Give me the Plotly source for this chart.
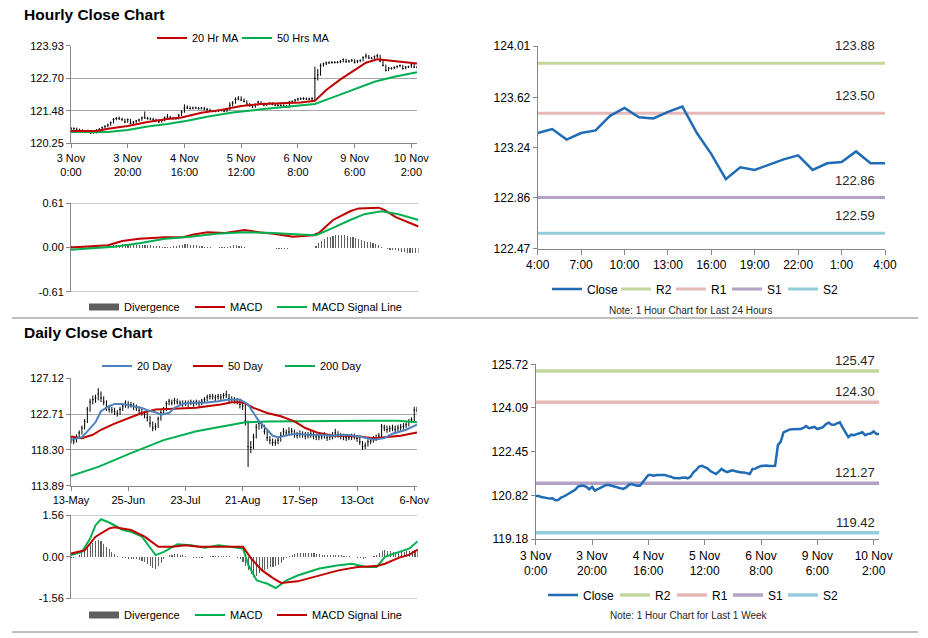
import plotly.graph_objects as go

W, H = 928, 638
FONT = "Liberation Sans, Arial, sans-serif"

# ---------------- DATA ----------------
# Hourly closes, 3 Nov 0:00 .. 10 Nov 4:00 (trading hours)
hourly_close = [
    120.80, 120.80, 120.76, 120.74, 120.70, 120.70, 120.71, 120.64, 120.65, 120.74,
    120.78, 120.84, 120.89, 120.94, 121.03, 121.15, 121.18, 121.18, 121.14, 121.05,
    121.14, 121.00, 121.05, 121.09, 121.13, 121.21, 121.21, 121.18, 121.17, 121.14,
    121.11, 121.06, 121.11, 121.21, 121.24, 121.21, 121.18, 121.18, 121.31, 121.43,
    121.58, 121.58, 121.56, 121.58, 121.58, 121.56, 121.58, 121.54, 121.52, 121.47,
    121.46, 121.46, 121.48, 121.49, 121.46, 121.52, 121.68, 121.77, 121.90, 121.93,
    121.88, 121.83, 121.73, 121.67, 121.62, 121.71, 121.81, 121.74, 121.69, 121.73,
    121.76, 121.72, 121.69, 121.68, 121.68, 121.66, 121.62, 121.81, 121.82, 121.88,
    121.92, 121.93, 121.94, 121.92, 121.92, 121.93, 122.70, 122.83, 123.18, 123.24,
    123.28, 123.29, 123.30, 123.30, 123.30, 123.34, 123.41, 123.33, 123.35, 123.38,
    123.30, 123.35, 123.37, 123.48, 123.54, 123.47, 123.46, 123.51, 123.55, 123.35,
    123.19, 123.00, 123.09, 123.07, 123.11, 123.15, 123.18, 123.07, 123.12, 123.13,
    123.21, 123.12, 123.12]
hourly_high = [
    120.86, 120.85, 120.84, 120.80, 120.78, 120.75, 120.76, 120.74, 120.69, 120.78,
    120.82, 120.88, 120.93, 120.99, 121.07, 121.20, 121.24, 121.26, 121.22, 121.18,
    121.19, 121.17, 121.09, 121.13, 121.18, 121.26, 121.45, 121.25, 121.22, 121.21,
    121.18, 121.15, 121.15, 121.26, 121.36, 121.28, 121.25, 121.23, 121.35, 121.50,
    121.72, 121.68, 121.64, 121.63, 121.63, 121.62, 121.62, 121.62, 121.58, 121.56,
    121.51, 121.50, 121.52, 121.53, 121.53, 121.58, 121.80, 121.84, 121.98, 122.03,
    122.02, 121.94, 121.87, 121.77, 121.71, 121.75, 121.85, 121.84, 121.78, 121.77,
    121.80, 121.80, 121.76, 121.73, 121.72, 121.72, 121.70, 121.85, 121.87, 121.92,
    121.97, 121.98, 121.99, 121.98, 121.97, 121.99, 123.14, 123.05, 123.26, 123.29,
    123.33, 123.34, 123.35, 123.35, 123.35, 123.39, 123.45, 123.44, 123.40, 123.43,
    123.42, 123.39, 123.42, 123.53, 123.64, 123.58, 123.51, 123.56, 123.62, 123.59,
    123.39, 123.22, 123.13, 123.12, 123.15, 123.19, 123.22, 123.21, 123.16, 123.17,
    123.25, 123.24, 123.16]
hourly_low = [
    120.75, 120.76, 120.72, 120.70, 120.66, 120.66, 120.66, 120.60, 120.61, 120.62,
    120.71, 120.75, 120.81, 120.86, 120.91, 121.00, 121.12, 121.13, 121.10, 121.01,
    121.02, 120.97, 120.97, 121.02, 121.06, 121.10, 121.17, 121.14, 121.13, 121.10,
    121.07, 121.02, 121.03, 121.08, 121.18, 121.17, 121.14, 121.14, 121.15, 121.28,
    121.40, 121.54, 121.52, 121.53, 121.54, 121.52, 121.53, 121.50, 121.48, 121.43,
    121.42, 121.42, 121.43, 121.45, 121.42, 121.43, 121.49, 121.64, 121.74, 121.87,
    121.84, 121.79, 121.69, 121.63, 121.58, 121.59, 121.68, 121.70, 121.65, 121.66,
    121.70, 121.68, 121.65, 121.64, 121.64, 121.62, 121.58, 121.59, 121.77, 121.79,
    121.85, 121.88, 121.89, 121.88, 121.87, 121.88, 121.88, 122.62, 122.80, 123.14,
    123.20, 123.24, 123.25, 123.26, 123.26, 123.27, 123.30, 123.29, 123.29, 123.31,
    123.26, 123.27, 123.31, 123.34, 123.45, 123.43, 123.42, 123.43, 123.47, 123.31,
    123.15, 122.96, 122.97, 123.03, 123.04, 123.08, 123.12, 123.03, 123.04, 123.09,
    123.10, 123.09, 123.08]
hourly_tick_labels = ["3 Nov<br>0:00", "3 Nov<br>20:00", "4 Nov<br>16:00", "5 Nov<br>12:00",
                      "6 Nov<br>8:00", "9 Nov<br>6:00", "10 Nov<br>2:00"]
hourly_price_ticks = [120.25, 121.48, 122.70, 123.93]

ma20_hr_idx = [0, 9, 13, 20, 27, 34, 39, 46, 53, 60, 67, 74, 81, 86, 90, 95, 100, 104, 108, 111, 116, 122]
ma20_hr = [120.71, 120.71, 120.80, 120.90, 121.05, 121.17, 121.22, 121.40, 121.51, 121.66, 121.73,
           121.77, 121.79, 121.85, 122.26, 122.66, 123.01, 123.29, 123.42, 123.39, 123.34, 123.26]
ma50_hr_idx = [0, 13, 20, 27, 34, 41, 48, 57, 67, 76, 86, 93, 100, 107, 114, 122]
ma50_hr = [120.68, 120.68, 120.75, 120.88, 120.98, 121.10, 121.25, 121.41, 121.53, 121.63,
           121.73, 122.01, 122.28, 122.57, 122.76, 122.93]

macd_hr_idx = [0, 5, 13, 18, 24, 33, 39, 43, 48, 54, 61, 66, 71, 78, 85, 87, 92, 98, 101, 108, 110, 114, 119, 122]
macd_hr = [0.00, 0.01, 0.03, 0.09, 0.12, 0.14, 0.14, 0.18, 0.21, 0.20, 0.24, 0.21, 0.19, 0.15,
           0.17, 0.20, 0.38, 0.50, 0.54, 0.55, 0.52, 0.42, 0.34, 0.29]
signal_hr_idx = [0, 10, 15, 24, 33, 42, 51, 61, 71, 80, 86, 92, 98, 103, 109, 115, 122]
signal_hr = [-0.03, -0.01, 0.01, 0.06, 0.12, 0.15, 0.19, 0.21, 0.20, 0.18, 0.17, 0.27, 0.38,
             0.46, 0.50, 0.46, 0.38]
divergence_hr = [
    0.02, 0.02, 0.02, 0.02, 0.02, 0.01, 0.01, 0.01, 0.01, 0.01,
    0.01, 0.01, 0.01, 0.02, 0.02, 0.03, 0.04, 0.04, 0.05, 0.05,
    0.05, 0.05, 0.04, 0.04, 0.04, 0.04, 0.04, 0.03, 0.03, 0.02,
    0.02, 0.02, 0.01, 0.01, 0.01, 0.01, 0.02, 0.02, 0.03, 0.04,
    0.05, 0.05, 0.04, 0.04, 0.03, 0.02, 0.02, 0.01, 0.01, 0.01,
    0.00, 0.00, 0.01, 0.01, 0.01, 0.01, 0.02, 0.03, 0.03, 0.02,
    0.02, 0.01, 0.00, -0.01, -0.01, 0.00, 0.00, -0.01, -0.01, -0.01,
    -0.01, -0.01, -0.02, -0.02, -0.02, -0.02, -0.02, -0.01, -0.01, -0.01,
    -0.01, -0.01, -0.01, -0.01, -0.01, -0.01, 0.02, 0.06, 0.09, 0.12,
    0.14, 0.15, 0.16, 0.17, 0.17, 0.17, 0.17, 0.16, 0.15, 0.14,
    0.13, 0.12, 0.10, 0.09, 0.08, 0.07, 0.06, 0.05, 0.03, 0.01,
    -0.01, -0.02, -0.03, -0.04, -0.04, -0.05, -0.06, -0.06, -0.07, -0.07,
    -0.08, -0.08, -0.08]
macd_hr_ticks = [-0.61, 0.00, 0.61]

last24_tick_labels = ["4:00", "7:00", "10:00", "13:00", "16:00", "19:00", "22:00", "1:00", "4:00"]
last24_price_ticks = [122.47, 122.86, 123.24, 123.62, 124.01]
week_price_ticks = [119.18, 120.82, 122.45, 124.09, 125.72]
level_names = ["R2", "R1", "S1", "S2"]
levels_24h = [123.88, 123.50, 122.86, 122.59]
levels_1w = [125.47, 124.30, 121.27, 119.42]

# Daily, 13 May .. 6 Nov
daily_close = [
    119.6, 119.4, 119.9, 120.4, 121.0, 121.8, 123.3, 124.2, 124.5, 124.7,
    125.2, 124.7, 124.2, 123.5, 123.3, 123.2, 123.0, 122.8, 123.3, 123.7,
    124.1, 123.8, 123.9, 123.6, 123.5, 123.2, 122.9, 122.7, 122.3, 121.6,
    121.0, 121.2, 122.1, 122.9, 123.3, 124.0, 124.3, 124.1, 124.4, 124.2,
    124.1, 124.0, 124.1, 124.0, 124.2, 124.0, 124.2, 124.0, 124.3, 124.5,
    124.8, 124.9, 124.9, 124.7, 124.9, 124.8, 125.0, 125.1, 124.6, 124.5,
    124.4, 124.3, 123.9, 123.7, 121.9, 118.7, 118.6, 119.9, 121.1, 121.6,
    121.3, 120.6, 119.8, 119.5, 119.2, 119.2, 119.5, 120.1, 120.6, 120.4,
    120.5, 120.6, 120.2, 120.1, 120.3, 120.2, 120.0, 120.1, 120.3, 120.0,
    119.9, 119.9, 120.0, 120.1, 119.8, 119.9, 120.0, 120.4, 120.2, 120.0,
    119.9, 119.8, 119.8, 119.9, 119.9, 119.7, 119.3, 118.7, 118.8, 119.3,
    119.4, 119.6, 119.8, 120.0, 121.2, 121.0, 120.8, 120.9, 121.0, 120.8,
    121.0, 121.1, 121.2, 121.4, 121.8, 122.0, 123.2, 123.2]
daily_high = [
    120.0, 119.9, 120.2, 120.7, 121.3, 122.1, 123.6, 124.6, 125.0, 125.1,
    125.9, 125.5, 124.9, 124.4, 123.8, 123.6, 123.5, 123.2, 123.6, 124.0,
    124.4, 124.3, 124.2, 124.1, 123.9, 123.7, 123.4, 123.1, 122.9, 122.5,
    121.8, 121.6, 122.4, 123.2, 123.6, 124.3, 124.6, 124.5, 124.7, 124.6,
    124.4, 124.4, 124.4, 124.4, 124.5, 124.4, 124.5, 124.4, 124.6, 124.8,
    125.1, 125.2, 125.2, 125.1, 125.2, 125.2, 125.3, 125.6, 125.2, 124.9,
    124.8, 124.7, 124.5, 124.1, 123.9, 121.9, 119.4, 120.3, 121.5, 121.9,
    121.8, 121.4, 120.7, 120.0, 119.7, 119.6, 119.9, 120.5, 121.0, 120.8,
    121.1, 121.0, 120.8, 120.5, 120.7, 120.6, 120.5, 120.5, 120.7, 120.5,
    120.3, 120.3, 120.4, 120.5, 120.3, 120.3, 120.5, 120.9, 120.6, 120.4,
    120.3, 120.2, 120.2, 120.3, 120.3, 120.1, 119.9, 119.4, 119.2, 119.6,
    119.8, 120.0, 120.2, 120.4, 121.5, 121.4, 121.3, 121.3, 121.4, 121.3,
    121.4, 121.5, 121.6, 121.7, 122.1, 122.3, 123.6, 123.6]
daily_low = [
    119.1, 119.0, 119.2, 119.7, 120.2, 120.8, 121.6, 123.0, 123.9, 124.1,
    124.4, 124.2, 123.8, 123.1, 122.9, 122.8, 122.6, 122.4, 122.6, 123.1,
    123.5, 123.4, 123.5, 123.2, 123.1, 122.8, 122.5, 122.2, 121.8, 121.1,
    120.6, 120.7, 121.0, 121.9, 122.7, 123.1, 123.8, 123.8, 123.9, 123.9,
    123.7, 123.6, 123.7, 123.6, 123.8, 123.6, 123.8, 123.6, 123.8, 124.1,
    124.3, 124.5, 124.5, 124.3, 124.5, 124.4, 124.6, 124.7, 124.2, 124.1,
    124.0, 123.9, 123.4, 123.2, 121.3, 116.2, 117.9, 118.4, 119.7, 120.8,
    120.9, 120.2, 119.4, 119.0, 118.8, 118.8, 119.0, 119.3, 119.9, 120.0,
    120.1, 120.1, 119.8, 119.7, 119.8, 119.8, 119.6, 119.7, 119.8, 119.6,
    119.5, 119.5, 119.6, 119.7, 119.4, 119.5, 119.6, 119.8, 119.8, 119.6,
    119.5, 119.4, 119.5, 119.5, 119.6, 119.3, 118.9, 118.3, 118.4, 118.7,
    119.0, 119.2, 119.4, 119.6, 119.9, 120.6, 120.4, 120.5, 120.6, 120.4,
    120.6, 120.7, 120.8, 121.0, 121.2, 121.6, 121.7, 122.9]
daily_tick_labels = ["13-May", "25-Jun", "23-Jul", "21-Aug", "17-Sep", "13-Oct", "6-Nov"]
daily_price_ticks = [113.89, 118.30, 122.71, 127.12]

ma20_d_idx = [0, 4, 6, 9, 11, 14, 16, 19, 21, 24, 26, 28, 31, 33, 36, 38, 41, 44, 49, 54, 58, 62,
              65, 67, 69, 72, 74, 76, 78, 82, 87, 91, 96, 101, 106, 111, 115, 118, 123, 127]
ma20_d = [119.54, 119.87, 120.58, 121.70, 123.06, 123.68, 123.97, 123.97, 123.81, 123.60, 123.48,
          123.19, 122.94, 122.65, 122.85, 123.48, 123.97, 124.10, 124.10, 124.30, 124.51, 124.51,
          123.89, 122.85, 121.82, 120.78, 120.04, 119.87, 120.04, 120.29, 120.16, 120.16, 120.04,
          120.16, 119.96, 119.54, 119.75, 120.29, 120.78, 121.40]
ma50_d_idx = [0, 4, 8, 11, 16, 21, 26, 31, 36, 41, 46, 50, 55, 59, 62, 64, 67, 72, 77, 82, 86, 91,
              96, 101, 106, 111, 116, 121, 127]
ma50_d = [119.96, 119.75, 120.16, 120.78, 121.53, 122.23, 122.85, 123.27, 123.35, 123.48, 123.48,
          123.68, 123.89, 124.18, 124.18, 124.01, 123.48, 122.85, 122.44, 121.82, 120.99, 120.37,
          120.04, 120.04, 119.96, 119.75, 119.87, 120.04, 120.45]
ma200_d_idx = [0, 10, 22, 34, 46, 58, 64, 72, 84, 96, 108, 120, 124, 127]
ma200_d = [115.10, 116.20, 117.90, 119.50, 120.60, 121.30, 121.70, 121.80, 121.85, 121.90, 121.90,
           121.90, 121.75, 121.70]

macd_d_idx = [0, 4, 7, 9, 11, 14, 19, 22, 26, 28, 31, 34, 39, 44, 49, 54, 59, 63, 65, 68, 70, 72,
              75, 79, 83, 91, 98, 103, 108, 112, 115, 120, 124, 127]
macd_d = [0.06, 0.18, 0.68, 1.18, 1.40, 1.28, 1.00, 0.93, 0.75, 0.49, 0.06, 0.18, 0.47, 0.43, 0.34,
          0.43, 0.37, 0.31, -0.32, -0.88, -0.95, -1.01, -1.17, -0.88, -0.70, -0.44, -0.32, -0.26,
          -0.38, -0.38, 0.00, 0.18, 0.31, 0.58]
signal_d_idx = [0, 5, 9, 14, 16, 22, 27, 32, 37, 42, 47, 53, 59, 63, 66, 70, 74, 77, 83, 91, 98,
                105, 112, 115, 120, 124, 127]
signal_d = [0.12, 0.24, 0.75, 1.06, 1.10, 1.00, 0.75, 0.37, 0.37, 0.43, 0.37, 0.37, 0.39, 0.37,
            -0.07, -0.51, -0.80, -0.98, -0.92, -0.70, -0.51, -0.38, -0.35, -0.26, -0.04, 0.08, 0.27]
divergence_d = [
    -0.05, -0.04, 0.00, 0.08, 0.15, 0.25, 0.35, 0.45, 0.52, 0.58,
    0.62, 0.58, 0.48, 0.38, 0.28, 0.18, 0.10, 0.04, 0.00, -0.04,
    -0.06, -0.07, -0.08, -0.08, -0.10, -0.12, -0.15, -0.20, -0.28, -0.36,
    -0.42, -0.45, -0.35, -0.22, -0.10, 0.00, 0.05, 0.08, 0.10, 0.09,
    0.07, 0.05, 0.03, 0.00, -0.02, -0.03, -0.05, -0.05, -0.04, -0.02,
    0.00, 0.02, 0.03, 0.03, 0.04, 0.04, 0.03, 0.02, 0.01, 0.00,
    -0.02, -0.05, -0.10, -0.20, -0.35, -0.50, -0.65, -0.75, -0.72, -0.62,
    -0.55, -0.50, -0.45, -0.40, -0.38, -0.35, -0.30, -0.22, -0.12, -0.05,
    0.02, 0.06, 0.10, 0.13, 0.15, 0.15, 0.15, 0.14, 0.14, 0.13,
    0.12, 0.10, 0.08, 0.07, 0.06, 0.07, 0.08, 0.07, 0.06, 0.05,
    0.04, 0.03, 0.02, 0.00, -0.02, -0.04, -0.06, -0.07, -0.04, -0.02,
    0.00, 0.03, 0.08, 0.15, 0.22, 0.24, 0.22, 0.20, 0.18, 0.18,
    0.16, 0.16, 0.18, 0.20, 0.20, 0.22, 0.25, 0.28]
macd_d_ticks = [-1.56, 0.00, 1.56]

assert len(hourly_high) == len(hourly_low) == len(hourly_close) == len(divergence_hr)
assert len(daily_high) == len(daily_low) == len(daily_close) == len(divergence_d)

# ---------------- STYLE ----------------
RED = "#C00000"
GREEN = "#00B050"
BLUE20 = "#4F81BD"
CLOSE_BLUE = "#1F6BB5"
LEVEL_COLORS = ["#C3D69B", "#E6B9B8", "#B3A2C7", "#93CDDD"]
DIV_COLOR = "#5f5f5f"
AXIS = "#868686"
GRID = "#a6a6a6"
TXT = "#000000"


def xdom(a, b):
    return [a / W, b / W]


def ydom(top, bottom):
    return [1 - bottom / H, 1 - top / H]


def rng(lo, hi):
    e = (hi - lo) * 2e-4
    return [lo - e, hi + e]


def fmt(vals):
    return [f"{v:.2f}" for v in vals]


n_h = len(hourly_close)
n_d = len(daily_close)
xh = list(range(n_h))
xd = list(range(n_d))
last24 = hourly_close[-25:]
x24 = list(range(len(last24)))

fig = go.Figure()

# ---- Panel A: hourly candles + MAs ----
fig.add_trace(go.Ohlc(x=xh, open=hourly_close, high=hourly_high, low=hourly_low, close=hourly_close,
                      increasing=dict(line=dict(color="black", width=1)),
                      decreasing=dict(line=dict(color="black", width=1)),
                      tickwidth=0.3, showlegend=False, hoverinfo="skip", xaxis="x", yaxis="y"))
fig.add_trace(go.Scatter(x=ma50_hr_idx, y=ma50_hr, mode="lines", name="50 Hrs MA",
                         line=dict(color=GREEN, width=2), legend="legend", legendrank=2,
                         xaxis="x", yaxis="y"))
fig.add_trace(go.Scatter(x=ma20_hr_idx, y=ma20_hr, mode="lines", name="20 Hr MA",
                         line=dict(color=RED, width=2), legend="legend", legendrank=1, legendwidth=40,
                         xaxis="x", yaxis="y"))

# ---- Panel B: hourly MACD ----
fig.add_trace(go.Bar(x=xh, y=divergence_hr, marker=dict(color=DIV_COLOR, line=dict(width=0)),
                     width=0.4, showlegend=False, hoverinfo="skip", xaxis="x2", yaxis="y2"))
fig.add_trace(go.Scatter(x=[None], y=[None], mode="lines", name="Divergence",
                         line=dict(color=DIV_COLOR, width=7), legend="legend2", legendrank=1,
                         legendwidth=61, xaxis="x2", yaxis="y2"))
fig.add_trace(go.Scatter(x=macd_hr_idx, y=macd_hr, mode="lines", name="MACD",
                         line=dict(color=RED, width=2), legend="legend2", legendrank=2,
                         legendwidth=37, xaxis="x2", yaxis="y2"))
fig.add_trace(go.Scatter(x=signal_hr_idx, y=signal_hr, mode="lines", name="MACD Signal Line",
                         line=dict(color=GREEN, width=2), legend="legend2", legendrank=3,
                         xaxis="x2", yaxis="y2"))

# ---- Panel C: last 24 hours ----
lw24 = [10, 11, 11, None]
for k, (nm, lv, col) in enumerate(zip(level_names, levels_24h, LEVEL_COLORS)):
    fig.add_trace(go.Scatter(x=[x24[0], x24[-1]], y=[lv, lv], mode="lines", name=nm,
                             line=dict(color=col, width=3), legend="legend3", legendrank=k + 2,
                             legendwidth=lw24[k], xaxis="x3", yaxis="y3"))
fig.add_trace(go.Scatter(x=x24, y=last24, mode="lines", name="Close",
                         line=dict(color=CLOSE_BLUE, width=2.5), legend="legend3", legendrank=1,
                         legendwidth=24, xaxis="x3", yaxis="y3"))

# ---- Panel D: daily candles + MAs ----
fig.add_trace(go.Ohlc(x=xd, open=daily_close, high=daily_high, low=daily_low, close=daily_close,
                      increasing=dict(line=dict(color="black", width=1)),
                      decreasing=dict(line=dict(color="black", width=1)),
                      tickwidth=0.3, showlegend=False, hoverinfo="skip", xaxis="x4", yaxis="y4"))
fig.add_trace(go.Scatter(x=ma200_d_idx, y=ma200_d, mode="lines", name="200 Day",
                         line=dict(color=GREEN, width=2), legend="legend4", legendrank=3,
                         xaxis="x4", yaxis="y4"))
fig.add_trace(go.Scatter(x=ma50_d_idx, y=ma50_d, mode="lines", name="50 Day",
                         line=dict(color=RED, width=2), legend="legend4", legendrank=2, legendwidth=47,
                         xaxis="x4", yaxis="y4"))
fig.add_trace(go.Scatter(x=ma20_d_idx, y=ma20_d, mode="lines", name="20 Day",
                         line=dict(color=BLUE20, width=2), legend="legend4", legendrank=1, legendwidth=46,
                         xaxis="x4", yaxis="y4"))

# ---- Panel E: daily MACD ----
fig.add_trace(go.Bar(x=xd, y=divergence_d, marker=dict(color=DIV_COLOR, line=dict(width=0)),
                     width=0.4, showlegend=False, hoverinfo="skip", xaxis="x5", yaxis="y5"))
fig.add_trace(go.Scatter(x=[None], y=[None], mode="lines", name="Divergence",
                         line=dict(color=DIV_COLOR, width=7), legend="legend5", legendrank=1,
                         legendwidth=61, xaxis="x5", yaxis="y5"))
fig.add_trace(go.Scatter(x=macd_d_idx, y=macd_d, mode="lines", name="MACD",
                         line=dict(color=GREEN, width=2), legend="legend5", legendrank=2,
                         legendwidth=37, xaxis="x5", yaxis="y5"))
fig.add_trace(go.Scatter(x=signal_d_idx, y=signal_d, mode="lines", name="MACD Signal Line",
                         line=dict(color=RED, width=2), legend="legend5", legendrank=3,
                         xaxis="x5", yaxis="y5"))

# ---- Panel F: last week ----
lw1w = [12, 11, 10, None]
for k, (nm, lv, col) in enumerate(zip(level_names, levels_1w, LEVEL_COLORS)):
    fig.add_trace(go.Scatter(x=[xh[0], xh[-1]], y=[lv, lv], mode="lines", name=nm,
                             line=dict(color=col, width=3.5), legend="legend6", legendrank=k + 2,
                             legendwidth=lw1w[k], xaxis="x6", yaxis="y6"))
fig.add_trace(go.Scatter(x=xh, y=hourly_close, mode="lines", name="Close",
                         line=dict(color=CLOSE_BLUE, width=2.5), legend="legend6", legendrank=1,
                         legendwidth=27, xaxis="x6", yaxis="y6"))

# ---------------- LAYOUT ----------------
def yaxis(domain, anchor, lo, hi, ticks, size=11, grid=False):
    return dict(domain=domain, anchor=anchor, range=rng(lo, hi), tickvals=ticks, ticktext=fmt(ticks),
                showgrid=grid, gridcolor=GRID, gridwidth=1, showline=True, linecolor=AXIS, linewidth=1,
                ticks="outside", ticklen=4, tickcolor=AXIS, zeroline=False, fixedrange=True,
                automargin=False, tickfont=dict(family=FONT, size=size, color=TXT))


def xaxis(domain, anchor, hi, step, labels, size=11, ticklen=4):
    return dict(domain=domain, anchor=anchor, range=[0, hi], tickvals=list(range(0, hi + 1, step)),
                ticktext=labels, showgrid=False, showline=True, linecolor=AXIS, linewidth=1,
                ticks="outside", ticklen=ticklen, tickcolor=AXIS, zeroline=False, fixedrange=True,
                automargin=False, tickangle=0, tickfont=dict(family=FONT, size=size, color=TXT),
                rangeslider=dict(visible=False))


def hidden_x(domain, anchor, hi):
    return dict(domain=domain, anchor=anchor, range=[0, hi], visible=False, fixedrange=True,
                rangeslider=dict(visible=False))


def legend_at(x_px, y_px, size):
    return dict(orientation="h", x=x_px / W, y=1 - y_px / H, xanchor="left", yanchor="middle",
                font=dict(family=FONT, size=size, color=TXT), bgcolor="rgba(0,0,0,0)",
                borderwidth=0, itemclick=False, itemdoubleclick=False)


A_x, A_y = xdom(71, 417), ydom(45.7, 143.3)
B_x, B_y = xdom(71, 418.5), ydom(203.3, 291.7)
C_x, C_y = xdom(537.7, 885), ydom(46, 249)
D_x, D_y = xdom(71, 417), ydom(378.3, 485.7)
E_x, E_y = xdom(71, 417.7), ydom(515, 598.5)
F_x, F_y = xdom(535.7, 879.3), ydom(364.3, 539.3)

shapes = []
for yv in macd_hr_ticks:
    if yv != 0:
        shapes.append(dict(type="line", xref="x2 domain", yref="y2", x0=0, x1=1, y0=yv, y1=yv,
                           line=dict(color=GRID, width=1), layer="below"))
for yv in macd_d_ticks:
    if yv != 0:
        shapes.append(dict(type="line", xref="x5 domain", yref="y5", x0=0, x1=1, y0=yv, y1=yv,
                           line=dict(color=GRID, width=1), layer="below"))
for ypx in (318, 632):
    shapes.append(dict(type="line", xref="paper", yref="paper", x0=12 / W, x1=918 / W,
                       y0=1 - ypx / H, y1=1 - ypx / H, line=dict(color="#7f7f7f", width=1)))

annotations = [
    dict(text="Hourly Close Chart", xref="paper", yref="paper", x=22 / W, y=1 - 14 / H,
         xanchor="left", yanchor="middle", showarrow=False,
         font=dict(family=FONT, size=15.5, color=TXT, weight="bold")),
    dict(text="Daily Close Chart", xref="paper", yref="paper", x=22 / W, y=1 - 332.5 / H,
         xanchor="left", yanchor="middle", showarrow=False,
         font=dict(family=FONT, size=15.5, color=TXT, weight="bold")),
    dict(text="Note: 1 Hour Chart for Last 24 Hours", xref="paper", yref="paper", x=690 / W,
         y=1 - 310 / H, xanchor="center", yanchor="middle", showarrow=False,
         font=dict(family=FONT, size=10, color="#262626")),
    dict(text="Note: 1 Hour Chart for Last 1 Week", xref="paper", yref="paper", x=689 / W,
         y=1 - 615 / H, xanchor="center", yanchor="middle", showarrow=False,
         font=dict(family=FONT, size=10, color="#262626")),
]
for lv in levels_24h:
    annotations.append(dict(text=f"{lv:.2f}", xref="x3", yref="y3", x=x24[-1], y=lv,
                            xanchor="right", yanchor="bottom", xshift=-8, yshift=8, showarrow=False,
                            font=dict(family=FONT, size=13, color="#262626")))
for lv in levels_1w:
    annotations.append(dict(text=f"{lv:.2f}", xref="x6", yref="y6", x=xh[-1], y=lv,
                            xanchor="right", yanchor="bottom", xshift=-2, yshift=1, showarrow=False,
                            font=dict(family=FONT, size=13, color="#262626")))

fig.update_layout(
    width=W, height=H, autosize=False, margin=dict(l=0, r=0, t=0, b=0, pad=0, autoexpand=False),
    paper_bgcolor="white", plot_bgcolor="white", hovermode=False, showlegend=True,
    bargap=0,
    xaxis=xaxis(A_x, "y", n_h - 1, 20, hourly_tick_labels),
    yaxis=yaxis(A_y, "x", hourly_price_ticks[0], hourly_price_ticks[-1], hourly_price_ticks, grid=True),
    xaxis2=hidden_x(B_x, "y2", n_h - 1),
    yaxis2=yaxis(B_y, "x2", macd_hr_ticks[0], macd_hr_ticks[-1], macd_hr_ticks),
    xaxis3=xaxis(C_x, "y3", len(last24) - 1, 3, last24_tick_labels, size=12, ticklen=5),
    yaxis3=yaxis(C_y, "x3", last24_price_ticks[0], last24_price_ticks[-1], last24_price_ticks, size=12),
    xaxis4=xaxis(D_x, "y4", n_d - 1, 21, daily_tick_labels),
    yaxis4=yaxis(D_y, "x4", daily_price_ticks[0], daily_price_ticks[-1], daily_price_ticks, grid=True),
    xaxis5=hidden_x(E_x, "y5", n_d - 1),
    yaxis5=yaxis(E_y, "x5", macd_d_ticks[0], macd_d_ticks[-1], macd_d_ticks),
    xaxis6=xaxis(F_x, "y6", n_h - 1, 20, hourly_tick_labels, size=12, ticklen=5),
    yaxis6=yaxis(F_y, "x6", week_price_ticks[0], week_price_ticks[-1], week_price_ticks, size=12),
    legend=legend_at(152, 38, 11),
    legend2=legend_at(84, 307, 11),
    legend3=legend_at(547, 289, 12),
    legend4=legend_at(97, 366, 11),
    legend5=legend_at(84, 615, 11),
    legend6=legend_at(543, 595, 12),
    shapes=shapes,
    annotations=annotations,
)

fig.write_html("out.html", config={"displayModeBar": False, "staticPlot": True},
               post_script="document.body.style.margin='0px';document.body.style.overflow='hidden';")
